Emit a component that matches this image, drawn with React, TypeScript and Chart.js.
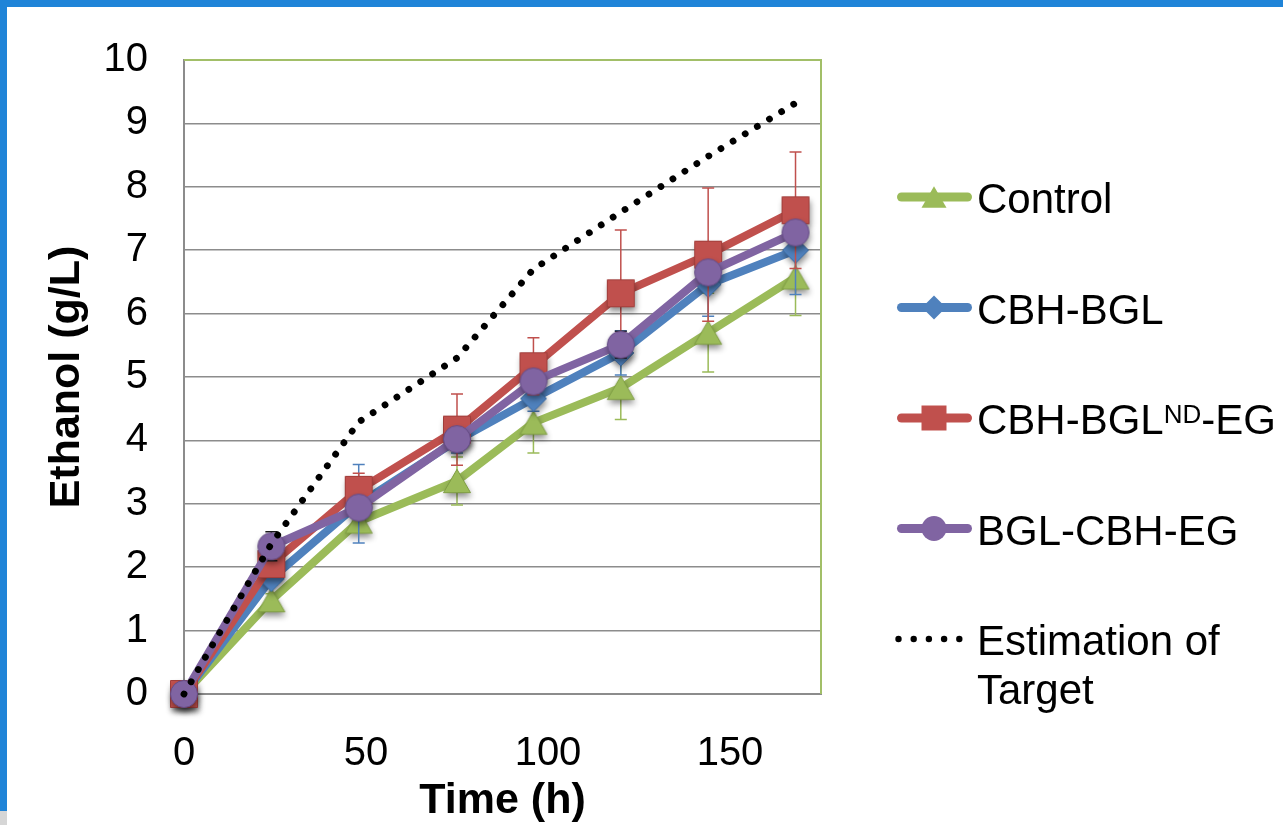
import React, { useEffect, useRef } from 'react';
import { Chart, registerables } from 'chart.js';

Chart.register(...registerables);

// ---------- data ----------
const timeHours = [0, 24, 48, 75, 96, 120, 144, 168];

const controlValues = [0, 1.48, 2.72, 3.36, 4.28, 4.83, 5.7, 6.57];
const controlErrors = [0, 0.1, 0.17, 0.38, 0.48, 0.5, 0.62, 0.6];

const cbhBglValues = [0, 1.82, 3.0, 4.0, 4.66, 5.38, 6.46, 7.0];
const cbhBglErrors = [0, 0.1, 0.62, 0.2, 0.2, 0.35, 0.5, 0.7];

const cbhBglNdEgValues = [0, 2.05, 3.22, 4.17, 5.17, 6.32, 6.93, 7.63];
const cbhBglNdEgErrors = [0, 0.15, 0.26, 0.56, 0.45, 1.0, 1.05, 0.92];

const bglCbhEgValues = [0, 2.33, 2.94, 4.02, 4.93, 5.51, 6.65, 7.28];
const bglCbhEgErrors = [0, 0.23, 0.15, 0.15, 0.15, 0.21, 0.15, 0.15];

const targetValues = [0, 2.37, 4.29, 5.3, 6.7, 7.6, 8.48, 9.32];

const legendLabels = ['Control', 'CBH-BGL', 'CBH-BGL^{ND}-EG', 'BGL-CBH-EG', 'Estimation of\nTarget'];
const xTickValues = [0, 50, 100, 150];
const xAxisMax = 175;
const yAxisMin = 0;
const yAxisMax = 10;
const xTitle = 'Time (h)';
const yTitle = 'Ethanol (g/L)';

// ---------- styles ----------
const FONT = "'Liberation Sans', Arial, sans-serif";
const GRID_GRAY = '#8c8c8c';
const PLOT_GREEN = '#a2bf68';

type Shape = 'triangle' | 'diamond' | 'square' | 'circle';

const seriesStyles: { color: string; dark: string; shape: Shape; r: number; err: string; order: number }[] = [
  { color: '#9BBB59', dark: '#7E9D43', shape: 'triangle', r: 13.5, err: '#9BBB59', order: 4 },
  { color: '#4F81BD', dark: '#3C6AA0', shape: 'diamond', r: 13, err: '#4F81BD', order: 3 },
  { color: '#C0504D', dark: '#A03E3B', shape: 'square', r: 13.5, err: '#C0504D', order: 2 },
  { color: '#8064A2', dark: '#654C85', shape: 'circle', r: 13.5, err: '#1a1a1a', order: 1 },
];

function tracePath(g: CanvasRenderingContext2D, shape: Shape, cx: number, cy: number, r: number) {
  g.beginPath();
  if (shape === 'circle') {
    g.arc(cx, cy, r, 0, Math.PI * 2);
  } else if (shape === 'square') {
    g.rect(cx - r, cy - r, 2 * r, 2 * r);
  } else if (shape === 'diamond') {
    g.moveTo(cx, cy - r);
    g.lineTo(cx + r, cy);
    g.lineTo(cx, cy + r);
    g.lineTo(cx - r, cy);
    g.closePath();
  } else {
    const h = r * Math.sqrt(3);
    g.moveTo(cx, cy - h / 2);
    g.lineTo(cx + r, cy + h / 2);
    g.lineTo(cx - r, cy + h / 2);
    g.closePath();
  }
}

function makeMarker(shape: Shape, r: number, fill: string, stroke: string): HTMLCanvasElement {
  const S = 2 * Math.ceil(r) + 36;
  const c = document.createElement('canvas');
  c.width = S;
  c.height = S;
  const g = c.getContext('2d')!;
  const cx = S / 2;
  const cy = S / 2;
  g.save();
  g.shadowColor = 'rgba(0,0,0,0.45)';
  g.shadowBlur = 6;
  g.shadowOffsetX = 1;
  g.shadowOffsetY = 4;
  tracePath(g, shape, cx, cy, r);
  g.fillStyle = fill;
  g.fill();
  g.restore();
  tracePath(g, shape, cx, cy, r);
  g.lineWidth = 1;
  g.strokeStyle = stroke;
  g.stroke();
  return c;
}

const framePlugin = {
  id: 'frame',
  beforeDraw(chart: any) {
    const ctx = chart.ctx;
    ctx.save();
    ctx.fillStyle = '#ffffff';
    ctx.fillRect(0, 0, chart.width, chart.height);
    ctx.restore();
  },
  afterDraw(chart: any) {
    const ctx = chart.ctx;
    ctx.save();
    ctx.fillStyle = '#1F84D8';
    ctx.fillRect(0, 0, chart.width, 7);
    ctx.fillRect(0, 0, 7, 811);
    ctx.fillStyle = '#d6d6d6';
    ctx.fillRect(0, 811, 7, chart.height - 811);
    ctx.restore();
  },
};

const plotBorderPlugin = {
  id: 'plotBorder',
  beforeDatasetsDraw(chart: any) {
    const { ctx, chartArea: a } = chart;
    ctx.save();
    ctx.strokeStyle = PLOT_GREEN;
    ctx.lineWidth = 2;
    ctx.beginPath();
    ctx.moveTo(a.left, a.top);
    ctx.lineTo(a.right, a.top);
    ctx.lineTo(a.right, a.bottom);
    ctx.stroke();
    ctx.restore();
  },
};

const errorBarPlugin = {
  id: 'errorBars',
  beforeDatasetDraw(chart: any, args: any) {
    const ds = chart.data.datasets[args.index];
    const errs: number[] | undefined = ds.errorValues;
    if (!errs) return;
    const yScale = chart.scales.y;
    const ctx = chart.ctx;
    ctx.save();
    ctx.strokeStyle = ds.errorColor;
    ctx.lineWidth = 1.5;
    args.meta.data.forEach((pt: any, j: number) => {
      const e = errs[j];
      if (!e) return;
      const v = ds.data[j].y;
      const yt = yScale.getPixelForValue(v + e);
      const yb = yScale.getPixelForValue(v - e);
      ctx.beginPath();
      ctx.moveTo(pt.x, yt);
      ctx.lineTo(pt.x, yb);
      ctx.moveTo(pt.x - 6, yt);
      ctx.lineTo(pt.x + 6, yt);
      ctx.moveTo(pt.x - 6, yb);
      ctx.lineTo(pt.x + 6, yb);
      ctx.stroke();
    });
    ctx.restore();
  },
};

function drawRichText(ctx: CanvasRenderingContext2D, text: string, x: number, baseline: number, size: number) {
  const re = /\^\{([^}]*)\}/g;
  let last = 0;
  let cx = x;
  let m: RegExpExecArray | null;
  const supSize = Math.round(size * 0.62);
  const parts: { t: string; sup: boolean }[] = [];
  while ((m = re.exec(text)) !== null) {
    if (m.index > last) parts.push({ t: text.slice(last, m.index), sup: false });
    parts.push({ t: m[1], sup: true });
    last = m.index + m[0].length;
  }
  if (last < text.length) parts.push({ t: text.slice(last), sup: false });
  parts.forEach((p) => {
    if (p.sup) {
      ctx.font = `${supSize}px ${FONT}`;
      ctx.fillText(p.t, cx, baseline - 0.716 * (size - supSize));
    } else {
      ctx.font = `${size}px ${FONT}`;
      ctx.fillText(p.t, cx, baseline);
    }
    cx += ctx.measureText(p.t).width;
  });
}

const legendPlugin = {
  id: 'customLegend',
  afterDraw(chart: any) {
    const { ctx, chartArea: a } = chart;
    const x0 = a.right + 76;
    const x1 = a.right + 151;
    const mx = a.right + 113;
    const tx = a.right + 156;
    const size = 42;
    ctx.save();
    legendLabels.forEach((label, i) => {
      const y = a.top + 137 + i * 110.5;
      if (i < seriesStyles.length) {
        const st = seriesStyles[i];
        ctx.strokeStyle = st.color;
        ctx.lineWidth = 9;
        ctx.lineCap = 'round';
        ctx.beginPath();
        ctx.moveTo(x0 + 4.5, y);
        ctx.lineTo(x1 - 4.5, y);
        ctx.stroke();
        tracePath(ctx, st.shape, mx, y, st.r - 1);
        ctx.fillStyle = st.color;
        ctx.fill();
      } else {
        ctx.fillStyle = '#000';
        for (let k = 0; k < 5; k++) {
          ctx.beginPath();
          ctx.arc(x0 + 1.5 + k * 15.2, y, 3.2, 0, Math.PI * 2);
          ctx.fill();
        }
      }
      ctx.fillStyle = '#000';
      ctx.textBaseline = 'alphabetic';
      ctx.textAlign = 'left';
      label.split('\n').forEach((line, li) => {
        drawRichText(ctx, line, tx, y + 16 + li * 49, size);
      });
    });
    ctx.restore();
  },
};

export default function App() {
  const ref = useRef<HTMLCanvasElement>(null);

  useEffect(() => {
    const canvas = ref.current;
    if (!canvas) return;

    const seriesValues = [controlValues, cbhBglValues, cbhBglNdEgValues, bglCbhEgValues];
    const seriesErrors = [controlErrors, cbhBglErrors, cbhBglNdEgErrors, bglCbhEgErrors];

    const datasets: any[] = seriesValues.map((vals, i) => {
      const st = seriesStyles[i];
      return {
        label: legendLabels[i].replace(/\^\{([^}]*)\}/g, '$1'),
        data: timeHours.map((t, j) => ({ x: t, y: vals[j] })),
        borderColor: st.color,
        borderWidth: 8,
        borderJoinStyle: 'round',
        tension: 0,
        pointStyle: makeMarker(st.shape, st.r, st.color, st.dark),
        pointRadius: 14,
        order: st.order,
        clip: false,
        errorValues: seriesErrors[i],
        errorColor: st.err,
      };
    });

    datasets.push({
      label: legendLabels[4].replace('\n', ' '),
      data: timeHours.map((t, j) => ({ x: t, y: targetValues[j] })),
      borderColor: '#000000',
      borderWidth: 6.8,
      borderDash: [0.001, 14.2],
      borderCapStyle: 'round',
      tension: 0,
      pointRadius: 0,
      order: 0,
      clip: false,
    });

    const chart = new Chart(canvas, {
      type: 'line',
      data: { datasets },
      options: {
        responsive: false,
        animation: false,
        devicePixelRatio: 1,
        events: [],
        layout: { padding: { top: 58, right: 462, bottom: 0, left: 0 } },
        plugins: {
          legend: { display: false },
          tooltip: { enabled: false },
        },
        scales: {
          x: {
            type: 'linear',
            min: 0,
            max: xAxisMax,
            ticks: {
              stepSize: 50,
              padding: 28,
              color: '#000',
              font: { family: FONT, size: 40 },
              maxRotation: 0,
            },
            afterBuildTicks: (s: any) => {
              s.ticks = xTickValues.map((v) => ({ value: v }));
            },
            afterFit: (s: any) => {
              s.height = 131;
            },
            grid: { display: false },
            border: { display: true, color: GRID_GRAY, width: 2 },
            title: {
              display: true,
              text: xTitle,
              color: '#000',
              font: { family: FONT, size: 43, weight: 'bold', lineHeight: 1 },
              padding: { top: 0, bottom: 2 },
            },
          },
          y: {
            type: 'linear',
            min: yAxisMin,
            max: yAxisMax,
            ticks: {
              stepSize: 1,
              padding: 36,
              color: '#000',
              font: { family: FONT, size: 40 },
            },
            afterFit: (s: any) => {
              s.width = 184;
            },
            grid: {
              color: (c: any) =>
                c.tick && (c.tick.value === yAxisMin || c.tick.value === yAxisMax) ? 'rgba(0,0,0,0)' : GRID_GRAY,
              lineWidth: 1.5,
              drawTicks: false,
            },
            border: { display: true, color: GRID_GRAY, width: 2 },
            title: {
              display: true,
              text: yTitle,
              color: '#000',
              font: { family: FONT, size: 43, weight: 'bold', lineHeight: 1 },
              padding: { top: 46, bottom: 0 },
            },
          },
        },
      } as any,
      plugins: [framePlugin, plotBorderPlugin, errorBarPlugin, legendPlugin],
    });

    return () => chart.destroy();
  }, []);

  return (
    <div style={{ position: 'fixed', left: 0, top: 0, width: 1283, height: 825, background: '#ffffff' }}>
      <canvas ref={ref} width={1283} height={825} style={{ display: 'block', width: 1283, height: 825 }} />
    </div>
  );
}
